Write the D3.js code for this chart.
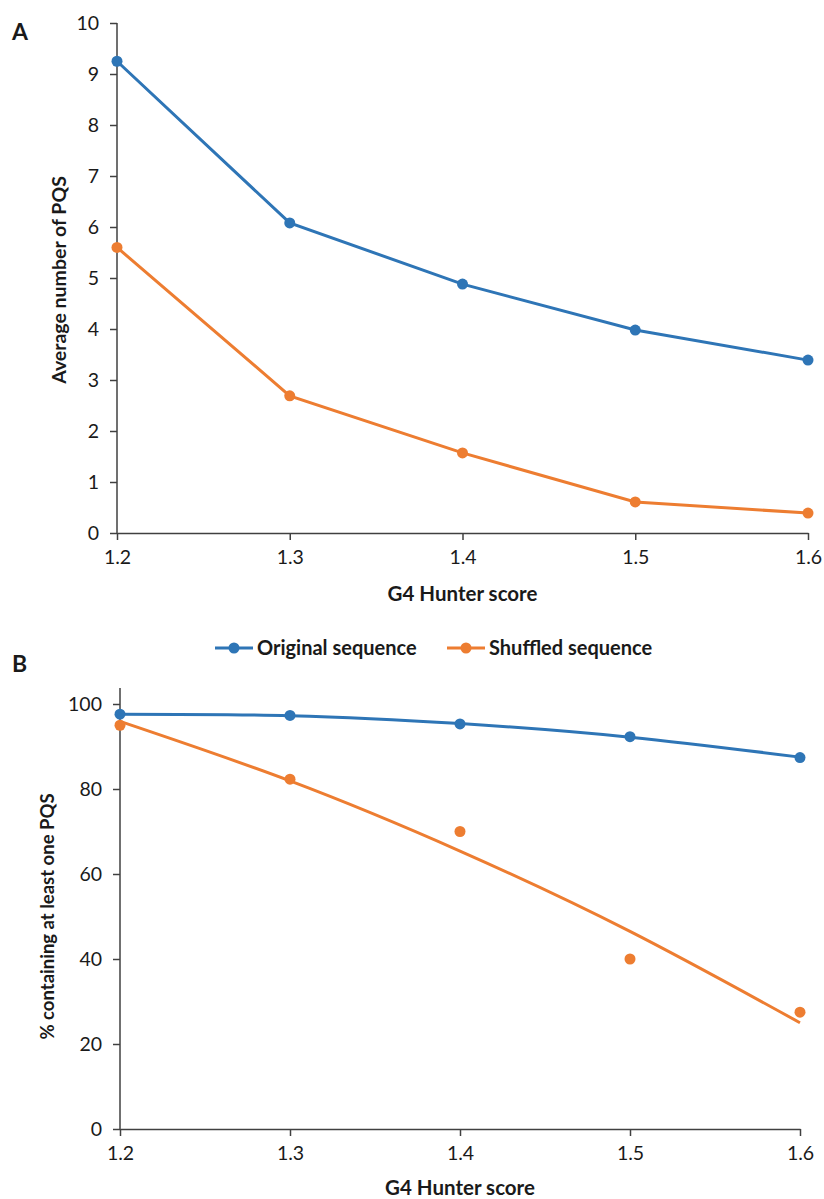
<!DOCTYPE html>
<html>
<head>
<meta charset="utf-8">
<script src="https://cdn.jsdelivr.net/npm/d3@7"></script>
<style>
  body { margin: 0; background: #fff; }
  text { font-family: Lato, "Open Sans", sans-serif; fill: #1a1a1a; }
</style>
</head>
<body>
<script>
const width = 824, height = 1199;

// data
const scores = [1.2, 1.3, 1.4, 1.5, 1.6];
const avgOriginal = [9.25, 6.08, 4.88, 3.98, 3.39];
const avgShuffled = [5.6, 2.69, 1.57, 0.61, 0.39];
const pctOriginal = [97.6, 97.3, 95.3, 92.3, 87.4];
const pctShuffled = [95, 82.3, 70, 40, 27.5];
// trend lines drawn in panel B (read at each score)
const trendOriginal = [97.6, 97.25, 95.4, 92.2, 87.5];
const trendShuffled = [95.9, 81.9, 65.4, 46.5, 25.0];
const ticksA = [0, 1, 2, 3, 4, 5, 6, 7, 8, 9, 10];
const ticksB = [0, 20, 40, 60, 80, 100];

const blue = "#2e75b6", orange = "#ed7d31", axisCol = "#404040";

const svg = d3.select("body").append("svg")
    .attr("width", width)
    .attr("height", height);

svg.append("rect")
    .attr("width", width)
    .attr("height", height)
    .attr("fill", "white");

function styleAxis(g) {
  g.selectAll("path, line").attr("stroke", axisCol).attr("stroke-width", 1.5);
  g.selectAll("text").attr("font-size", 19.5).attr("fill", "#222")
    .attr("font-family", "Lato, 'Open Sans', sans-serif");
}

// ---------- Panel A ----------
const xA = d3.scaleLinear().domain([1.2, 1.6]).range([117, 808]);
const yA = d3.scaleLinear().domain([0, 10]).range([533, 23]);

svg.append("g")
    .attr("transform", `translate(0,${yA(0)})`)
    .call(d3.axisBottom(xA).tickValues(scores).tickFormat(d3.format(".1f")).tickSize(7).tickPadding(10).tickSizeOuter(0))
    .call(styleAxis);

svg.append("g")
    .attr("transform", `translate(${xA(1.2)},0)`)
    .call(d3.axisLeft(yA).tickValues(ticksA).tickSize(7).tickPadding(11).tickSizeOuter(0))
    .call(styleAxis)
    .call(g => g.select(".domain").attr("d", `M0,${yA(0)}V${yA(10)}`));

const lineA = d3.line().x((d, i) => xA(scores[i])).y(d => yA(d));

[[avgOriginal, blue], [avgShuffled, orange]].forEach(([vals, col]) => {
  svg.append("path")
      .datum(vals)
      .attr("fill", "none")
      .attr("stroke", col)
      .attr("stroke-width", 3)
      .attr("d", lineA);
  svg.append("g").selectAll("circle")
    .data(vals)
    .join("circle")
      .attr("cx", (d, i) => xA(scores[i]))
      .attr("cy", d => yA(d))
      .attr("r", 5.5)
      .attr("fill", col);
});

svg.append("text")
    .attr("transform", `translate(66,${yA(5) + 2}) rotate(-90)`)
    .attr("text-anchor", "middle")
    .attr("font-size", 19.5)
    .attr("font-weight", "bold")
    .text("Average number of PQS");

svg.append("text")
    .attr("x", (xA(1.2) + xA(1.6)) / 2)
    .attr("y", 601)
    .attr("text-anchor", "middle")
    .attr("font-size", 20.5)
    .attr("font-weight", "bold")
    .text("G4 Hunter score");

svg.append("text")
    .attr("x", 12).attr("y", 40)
    .attr("font-family", "Liberation Sans, Arial, sans-serif")
    .attr("font-size", 23).attr("font-weight", "bold")
    .text("A");

// ---------- Legend ----------
const legend = [
  {name: "Original sequence", col: blue, x: 215},
  {name: "Shuffled sequence", col: orange, x: 447}
];
const lg = svg.append("g").selectAll("g")
  .data(legend)
  .join("g")
    .attr("transform", d => `translate(${d.x},648)`);
lg.append("line").attr("x1", 0).attr("x2", 38)
    .attr("stroke", d => d.col).attr("stroke-width", 3);
lg.append("circle").attr("cx", 19).attr("r", 5.5).attr("fill", d => d.col);
lg.append("text").attr("x", 42).attr("dy", "0.35em")
    .attr("font-size", 20).attr("font-weight", "bold")
    .text(d => d.name);

// ---------- Panel B ----------
const xB = d3.scaleLinear().domain([1.2, 1.6]).range([120, 800]);
const yB = d3.scaleLinear().domain([0, 100]).range([1129, 704]);

svg.append("g")
    .attr("transform", `translate(0,${yB(0)})`)
    .call(d3.axisBottom(xB).tickValues(scores).tickFormat(d3.format(".1f")).tickSize(7).tickPadding(10).tickSizeOuter(0))
    .call(styleAxis);

svg.append("g")
    .attr("transform", `translate(${xB(1.2)},0)`)
    .call(d3.axisLeft(yB).tickValues(ticksB).tickSize(7).tickPadding(11).tickSizeOuter(0))
    .call(styleAxis)
    .call(g => g.select(".domain").attr("d", `M0,${yB(0)}V688`));

const lineB = d3.line().x((d, i) => xB(scores[i])).y(d => yB(d)).curve(d3.curveNatural);

[[trendOriginal, pctOriginal, blue], [trendShuffled, pctShuffled, orange]].forEach(([trend, vals, col]) => {
  svg.append("path")
      .datum(trend)
      .attr("fill", "none")
      .attr("stroke", col)
      .attr("stroke-width", 3)
      .attr("d", lineB);
  svg.append("g").selectAll("circle")
    .data(vals)
    .join("circle")
      .attr("cx", (d, i) => xB(scores[i]))
      .attr("cy", d => yB(d))
      .attr("r", 5.5)
      .attr("fill", col);
});

svg.append("text")
    .attr("transform", `translate(54,${yB(50)}) rotate(-90)`)
    .attr("text-anchor", "middle")
    .attr("font-size", 18.5)
    .attr("font-weight", "bold")
    .text("% containing at least one PQS");

svg.append("text")
    .attr("x", (xB(1.2) + xB(1.6)) / 2)
    .attr("y", 1195)
    .attr("text-anchor", "middle")
    .attr("font-size", 20.5)
    .attr("font-weight", "bold")
    .text("G4 Hunter score");

svg.append("text")
    .attr("x", 12).attr("y", 672)
    .attr("font-family", "Liberation Sans, Arial, sans-serif")
    .attr("font-size", 23).attr("font-weight", "bold")
    .text("B");
</script>
</body>
</html>
